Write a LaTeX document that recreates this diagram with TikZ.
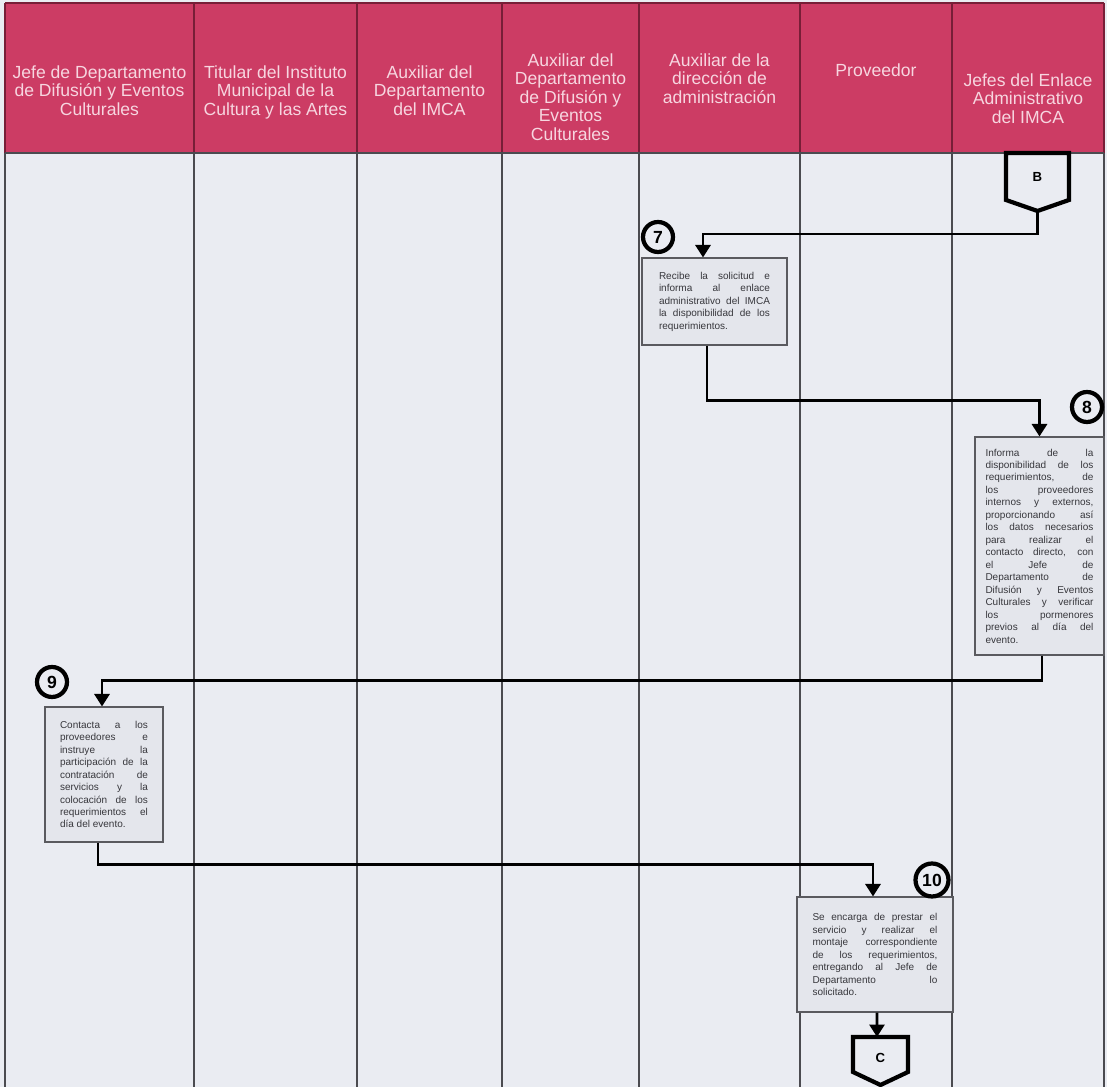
\documentclass[tikz,border=0pt]{standalone}
\usepackage{fontspec}
\setmainfont{Liberation Sans}
\usetikzlibrary{arrows.meta}

\definecolor{headred}{RGB}{204,60,100}
\definecolor{headtext}{RGB}{247,214,224}
\definecolor{headline}{RGB}{120,30,55}
\definecolor{lanebg}{RGB}{234,236,242}
\definecolor{laneline}{RGB}{75,75,80}
\definecolor{boxfill}{RGB}{228,230,236}
\definecolor{boxline}{RGB}{90,90,95}
\definecolor{boxtext}{RGB}{55,55,60}

\newcommand{\boxfont}{\fontsize{5.7}{7.1}\selectfont}

\tikzset{
    lane/.style={draw=laneline, line width=0.8pt},
    headtext/.style={text=headtext, align=center, anchor=north, inner sep=0pt,
        font=\fontsize{10}{10.6}\selectfont},
    actbox/.style={draw=boxline, fill=boxfill, line width=0.6pt, inner sep=0pt,
        align=justify, text=boxtext, font=\boxfont},
    stepnum/.style={circle, draw=black, fill=lanebg, line width=2.4pt, minimum size=0.6cm,
        inner sep=0pt, font=\fontsize{10}{10}\selectfont\bfseries},
    flow/.style={draw=black, line width=1.7pt, -{Triangle[width=0.3cm,length=0.25cm]}},
    pagelink/.style={draw=black, line width=2.4pt, fill=lanebg, line join=miter},
    linklabel/.style={font=\fontsize{7.5}{8}\selectfont\bfseries, inner sep=0pt},
}

\begin{document}
\begin{tikzpicture}[x=0.02cm, y=-0.02cm]
    \useasboundingbox[fill=lanebg] (0,0) rectangle (1107,1087);

    % lanes and header
    \fill[headred] (5,3) rectangle (1104,153);
    \foreach \x in {5,194,357,502,639,800,952,1104} {
        \draw[lane] (\x,153) -- (\x,1087);
        \draw[draw=headline, line width=0.8pt] (\x,3) -- (\x,153);
    }
    \draw[draw=headline, line width=0.8pt] (5,3) -- (1104,3);
    \draw[lane] (5,153) -- (1104,153);

    \node[headtext] (h1) at (99.5,65) {Jefe de Departamento\\de Difusión y Eventos\\Culturales};
    \node[headtext] (h2) at (275.5,65) {Titular del Instituto\\Municipal de la\\Cultura y las Artes};
    \node[headtext] (h3) at (429.5,65) {Auxiliar del\\Departamento\\del IMCA};
    \node[headtext] (h4) at (570.5,53) {Auxiliar del\\Departamento\\de Difusión y\\Eventos\\Culturales};
    \node[headtext] (h5) at (719.5,53) {Auxiliar de la\\dirección de\\administración};
    \node[headtext] (h6) at (876,63) {Proveedor};
    \node[headtext] (h7) at (1028,73) {Jefes del Enlace\\Administrativo\\del IMCA};

    % off-page connector B
    \draw[pagelink] (1006,153) -- (1069,153) -- (1069,200) -- (1037.5,211) -- (1006,200) -- cycle;
    \node[linklabel] (lb) at (1037.5,177) {B};
    \coordinate (btip) at (1037.5,211);

    % activities
    \node[actbox, minimum width=2.9cm, minimum height=1.74cm, text width=2.22cm] (a7) at (714.5,301.5)
        {Recibe la solicitud e\linebreak informa al enlace\linebreak administrativo del IMCA\linebreak la disponibilidad de los\linebreak requerimientos.};
    \node[actbox, minimum width=2.58cm, minimum height=4.36cm, text width=2.16cm] (a8) at (1039.5,546)
        {Informa de la\linebreak disponibilidad de los\linebreak requerimientos, de\linebreak los proveedores\linebreak internos y externos,\linebreak proporcionando así\linebreak los datos necesarios\linebreak para realizar el\linebreak contacto directo, con\linebreak el Jefe de\linebreak Departamento de\linebreak Difusión y Eventos\linebreak Culturales y verificar\linebreak los pormenores\linebreak previos al día del\linebreak evento.};
    \node[actbox, minimum width=2.36cm, minimum height=2.7cm, text width=1.76cm] (a9) at (104,774.5)
        {Contacta a los\linebreak proveedores e\linebreak instruye la\linebreak participación de la\linebreak contratación de\linebreak servicios y la\linebreak colocación de los\linebreak requerimientos el\linebreak día del evento.};
    \node[actbox, minimum width=3.12cm, minimum height=2.3cm, text width=2.5cm] (a10) at (875,954.5)
        {Se encarga de prestar el\linebreak servicio y realizar el\linebreak montaje correspondiente\linebreak de los requerimientos,\linebreak entregando al Jefe de\linebreak Departamento lo\linebreak solicitado.};

    % step numbers
    \node[stepnum] (n7) at (658,237) {7};
    \node[stepnum] (n8) at (1087,407) {8};
    \node[stepnum] (n9) at (52,682) {9};
    \node[stepnum, minimum size=0.66cm] (n10) at (932,880) {10};

    % off-page connector C
    \draw[pagelink] (853,1037) -- (908,1037) -- (908,1072) -- (880.5,1085) -- (853,1072) -- cycle;
    \node[linklabel] (lc) at (880.5,1058) {C};
    \coordinate (ctop) at (877,1037);

    % flow
    \draw[flow] (btip) -- ++(0,23) -| ([xshift=-0.23cm]a7.north);
    \draw[flow] ([xshift=-0.15cm]a7.south) -- ++(0,55) -| (a8.north);
    \draw[flow] ([xshift=0.05cm]a8.south) -- ++(0,25) -| ([xshift=-0.04cm]a9.north);
    \draw[flow] ([xshift=-0.12cm]a9.south) -- ++(0,22) -| ([xshift=-0.04cm]a10.north);
    \draw[flow] ([xshift=0.04cm]a10.south) -- (ctop);
\end{tikzpicture}
\end{document}
